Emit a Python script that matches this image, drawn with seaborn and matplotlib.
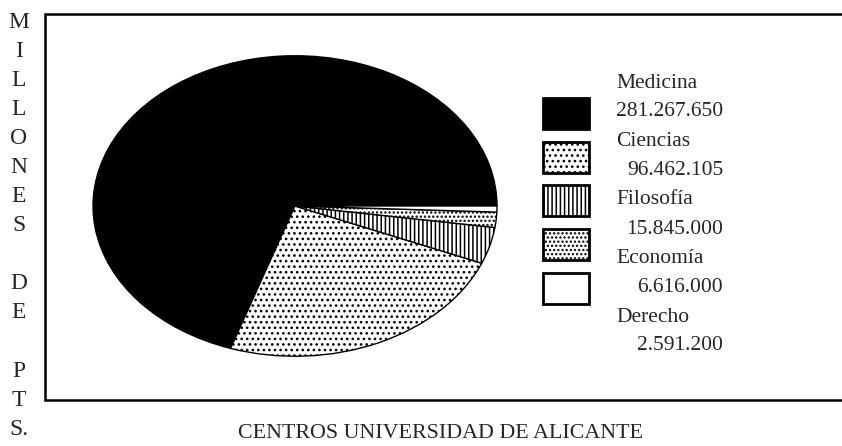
import matplotlib
matplotlib.use("Agg")
import matplotlib.pyplot as plt
from matplotlib.patches import Rectangle
import pandas as pd
import seaborn as sns

# datos
centros = ["Medicina", "Ciencias", "Filosofía", "Economía", "Derecho"]
importes = [281267650, 96462105, 15845000, 6616000, 2591200]
importes_txt = ["281.267.650", "96.462.105", "15.845.000", "6.616.000", "2.591.200"]
rellenos = ["black", "white", "white", "white", "white"]
tramas = [None, "...", "||||", "....", None]
letras_y = ["M", "I", "L", "L", "O", "N", "E", "S", "", "D", "E", "", "P", "T", "S."]
titulo = "CENTROS UNIVERSIDAD DE ALICANTE"

W, H = 842, 446

sns.set_style("white")
plt.rcParams["font.family"] = ["Liberation Serif", "DejaVu Serif"]
plt.rcParams["hatch.color"] = "black"
plt.rcParams["hatch.linewidth"] = 1.1

df = pd.DataFrame({"centro": centros, "importe": importes, "texto": importes_txt})

fig = plt.figure(figsize=(W / 100, H / 100), dpi=100)

# capa en pixeles para marco, leyenda y textos
over = fig.add_axes([0, 0, 1, 1])
over.set_xlim(0, W)
over.set_ylim(H, 0)
over.set_axis_off()

# marco abierto por la derecha
over.plot([W, 45, 45, W], [14, 14, 400, 400], color="black", lw=1.8,
          solid_joinstyle="miter")

# tarta eliptica
ax = fig.add_axes([92 / W, 1 - 357 / H, 406 / W, 302 / H])
wedges, _ = ax.pie(df["importe"], colors=rellenos, startangle=0, counterclock=True,
                   wedgeprops=dict(edgecolor="black", linewidth=1.0))
for w, h in zip(wedges, tramas):
    if h:
        w.set_hatch(h)
ax.set_aspect("auto")
ax.set_xlim(-1.005, 1.005)
ax.set_ylim(-1.005, 1.005)
ax.set_axis_off()

# leyenda
for i, row in df.iterrows():
    y0 = 98 + i * 43.7
    over.add_patch(Rectangle((543, y0), 46, 31, facecolor=rellenos[i],
                             edgecolor="black", lw=2.0, hatch=tramas[i]))
    over.text(616, 83 + i * 58.5, row["centro"], fontsize=15.5, va="center", ha="left")
    over.text(723, 112 + i * 58.5, row["texto"], fontsize=15.5, va="center", ha="right")

# eje vertical en letras apiladas
for i, c in enumerate(letras_y):
    over.text(19, 22 + i * 29.1, c, fontsize=17, va="center", ha="center")

over.text(441, 433, titulo, fontsize=15.8, va="center", ha="center")

fig.savefig("out.png", dpi=100, facecolor="white")
